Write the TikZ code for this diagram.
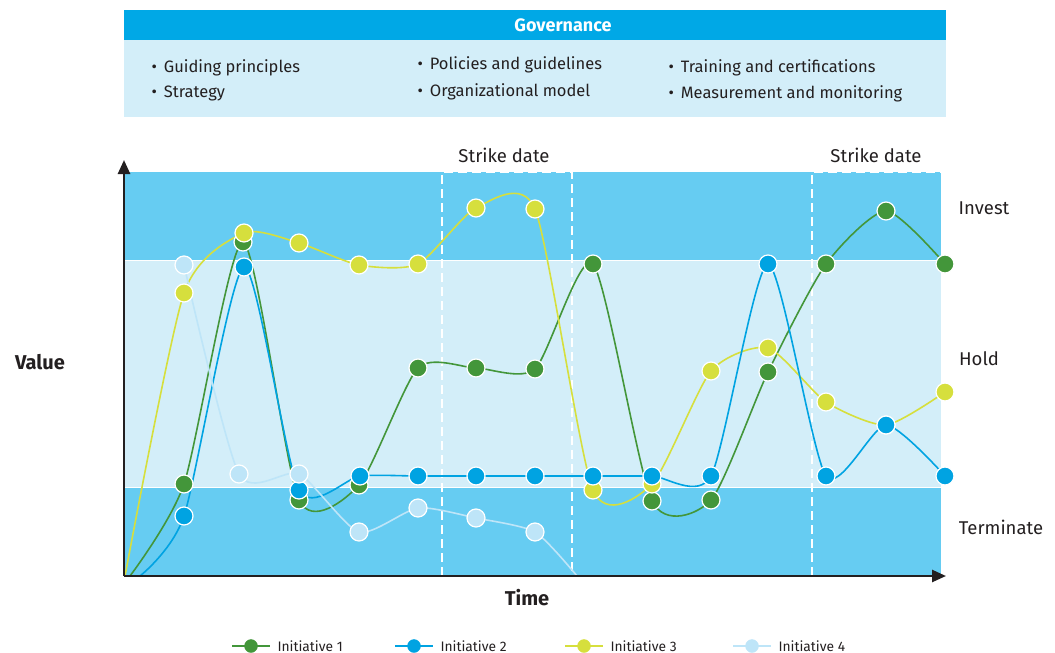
\documentclass[tikz,border=0pt]{standalone}
\usepackage{fontspec}
\setmainfont{Fira Sans}
\usetikzlibrary{arrows.meta}

\definecolor{govblue}{HTML}{00A8E6}
\definecolor{skyband}{HTML}{66CCF2}
\definecolor{paleband}{HTML}{D3EEF9}
\definecolor{initgreen}{HTML}{43963A}
\definecolor{initblue}{HTML}{00A3E2}
\definecolor{inityellow}{HTML}{D6DF3D}
\definecolor{initpale}{HTML}{BEE5F8}
\definecolor{axisgray}{HTML}{231F20}

\newcommand{\govitem}[1]{\textbullet\hspace{7pt}#1}

\begin{document}
\begin{tikzpicture}[x=1pt,y=-1pt]

	\tikzstyle item=[anchor=west, font=\fontsize{16.5}{18}\selectfont, text=axisgray];
	\tikzstyle band label=[font=\fontsize{18.5}{20}\selectfont, text=axisgray];
	\tikzstyle dot=[draw=white, line width=1.2pt];
	\tikzstyle data line=[line width=1.6pt];
	\tikzstyle legend text=[anchor=west, font=\fontsize{13.8}{15}\selectfont, text=axisgray];

	\useasboundingbox (0,0) rectangle (1055,653);

	% governance header
	\fill[govblue] (124,10) rectangle (946,40);
	\fill[paleband] (124,40) rectangle (946,117);
	\node[text=white, font=\fontsize{18}{20}\selectfont\bfseries] (gov) at (563,25) {Governance};
	\node[item] (guiding) at (148,68) {\govitem{Guiding principles}};
	\node[item] (strategy) at (148,93) {\govitem{Strategy}};
	\node[item] (policies) at (414,65) {\govitem{Policies and guidelines}};
	\node[item] (orgmodel) at (414,92) {\govitem{Organizational model}};
	\node[item] (training) at (665,68) {\govitem{Training and certifications}};
	\node[item] (measure) at (665,94) {\govitem{Measurement and monitoring}};

	% bands
	\fill[skyband] (124,172) rectangle (941,576);
	\fill[paleband] (124,260) rectangle (941,487);
	\draw[white, line width=1pt] (124,260) -- (941,260) (124,487) -- (941,487);
	\draw[white, line width=1.5pt, dash pattern=on 9pt off 5pt] (442,576) -- (442,172) -- (572,172) -- (572,576);
	\draw[white, line width=1.5pt, dash pattern=on 9pt off 5pt] (812,576) -- (812,172) -- (941,172);

	\node[band label] (strike1) at (504,155) {Strike date};
	\node[band label] (strike2) at (876,155) {Strike date};
	\node[band label] (invest) at (984,208) {Invest};
	\node[band label] (hold) at (979,359) {Hold};
	\node[band label] (terminate) at (1001,527) {Terminate};

	% data points
	\foreach \px/\py [count=\i] in {130/576, 184/484, 243/242, 299/500, 359/485, 418/368, 476/368, 535/369, 593/264, 652/501, 711/500, 768/372, 826/264, 886/211, 945/264}
		\coordinate (g\i) at (\px,\py);
	\foreach \px/\py [count=\i] in {140/576, 184/516, 244/267, 299/490, 360/476, 418/476, 476/476, 535/476, 593/476, 652/476, 711/476, 768/264, 826/476, 886/425, 945/476}
		\coordinate (b\i) at (\px,\py);
	\foreach \px/\py [count=\i] in {125/576, 184/293, 244/233, 299/243, 359/265, 418/264, 476/208, 535/209, 593/490, 652/484, 711/371, 768/348, 826/402, 886/425, 945/392}
		\coordinate (y\i) at (\px,\py);
	\foreach \px/\py [count=\i] in {184/265, 239/474, 299/474, 359/532, 418/508, 476/518, 535/532, 577/576}
		\coordinate (p\i) at (\px,\py);

	\draw[data line, initgreen] plot[smooth, tension=.4] coordinates {(g1) (g2) (g3) (g4) (g5) (g6) (g7) (g8) (g9) (g10) (g11) (g12) (g13) (g14) (g15)};
	\draw[data line, inityellow] plot[smooth, tension=.4] coordinates {(y1) (y2) (y3) (y4) (y5) (y6) (y7) (y8) (y9) (y10) (y11) (y12) (y13) (y14) (y15)};
	\draw[data line, initblue] plot[smooth, tension=.4] coordinates {(b1) (b2) (b3) (b4) (b5) (b6) (b7) (b8) (b9) (b10) (b11) (b12) (b13) (b14) (b15)};
	\draw[data line, initpale] plot[smooth, tension=.4] coordinates {(p1) (p2) (p3) (p4) (p5) (p6) (p7) (p8)};

	\foreach \i in {2,...,15}
		\filldraw[dot, fill=initgreen] (g\i) circle (9pt);
	\foreach \i in {2,...,15}
		\filldraw[dot, fill=inityellow] (y\i) circle (9pt);
	\foreach \i in {2,...,15}
		\filldraw[dot, fill=initblue] (b\i) circle (9pt);
	\foreach \i in {1,...,7}
		\filldraw[dot, fill=initpale] (p\i) circle (9pt);

	% axes
	\coordinate (origin) at (124,576);
	\coordinate (ytip) at (124,160);
	\coordinate (xtip) at (946,576);
	\draw[axisgray, line width=2.5pt, -{Triangle[length=14pt,width=12pt]}] (origin) -- (ytip);
	\draw[axisgray, line width=2.5pt, -{Triangle[length=14pt,width=12pt]}] (origin) -- (xtip);
	\node[font=\fontsize{20}{22}\selectfont\bfseries, text=axisgray] (value) at (40,362) {Value};
	\node[font=\fontsize{20}{22}\selectfont\bfseries, text=axisgray] (time) at (527,598) {Time};

	% legend
	\foreach \lx/\col/\lab [count=\i] in {232/initgreen/Initiative 1, 395/initblue/Initiative 2, 565/inityellow/Initiative 3, 733/initpale/Initiative 4} {
		\coordinate (l\i a) at (\lx,646);
		\coordinate (l\i b) at (\lx+38,646);
		\coordinate (l\i c) at (\lx+19,646);
		\draw[data line, \col] (l\i a) -- (l\i b);
		\filldraw[fill=\col, draw=\col] (l\i c) circle (6.5pt);
		\node[legend text] (leg\i) at (\lx+42,646) {\lab};
	}

\end{tikzpicture}
\end{document}
